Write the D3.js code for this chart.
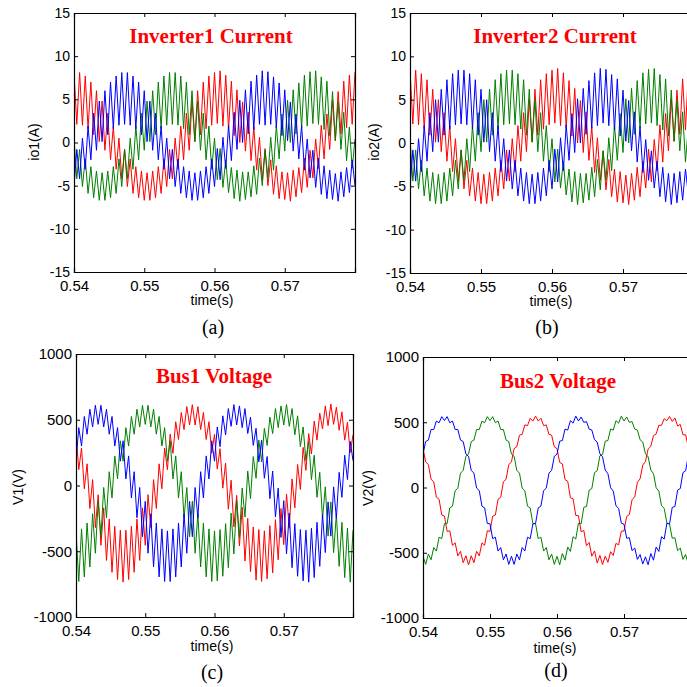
<!DOCTYPE html>
<html lang="en">
<head>
<meta charset="utf-8">
<title>Inverter currents and bus voltages</title>
<script src="https://cdn.jsdelivr.net/npm/d3@7"></script>
<style>
  body { margin: 0; background: white; }
  svg { display: block; background: white; }
  .axis-text { font-family: "Liberation Sans", Arial, sans-serif; fill: #000; }
  .title { font-family: "Liberation Serif", "Times New Roman", serif; font-weight: bold; fill: #ff0000; }
  .tag { font-family: "Liberation Serif", "Times New Roman", serif; fill: #000; }
</style>
</head>
<body>
<script>

// sample instants (s)
var sampleTimes = [
  0.54, 0.5404, 0.5408, 0.5412, 0.5416, 0.542, 0.5424, 0.5428, 0.5432, 0.5436,
  0.544, 0.5444, 0.5448, 0.5452, 0.5456, 0.546, 0.5464, 0.5468, 0.5472, 0.5476,
  0.548, 0.5484, 0.5488, 0.5492, 0.5496, 0.55, 0.5504, 0.5508, 0.5512, 0.5516,
  0.552, 0.5524, 0.5528, 0.5532, 0.5536, 0.554, 0.5544, 0.5548, 0.5552, 0.5556,
  0.556, 0.5564, 0.5568, 0.5572, 0.5576, 0.558, 0.5584, 0.5588, 0.5592, 0.5596,
  0.56, 0.5604, 0.5608, 0.5612, 0.5616, 0.562, 0.5624, 0.5628, 0.5632, 0.5636,
  0.564, 0.5644, 0.5648, 0.5652, 0.5656, 0.566, 0.5664, 0.5668, 0.5672, 0.5676,
  0.568, 0.5684, 0.5688, 0.5692, 0.5696, 0.57, 0.5704, 0.5708, 0.5712, 0.5716,
  0.572, 0.5724, 0.5728, 0.5732, 0.5736, 0.574, 0.5744, 0.5748, 0.5752, 0.5756,
  0.576, 0.5764, 0.5768, 0.5772, 0.5776, 0.578, 0.5784, 0.5788, 0.5792, 0.5796,
  0.58
];

// (a) inverter 1 current, A
var io1Red = [8.1, 2.1, 8.1, 2.0, 7.7, 1.6, 7.0, 0.9, 6.0, 0.1, 4.8, -0.9, 3.4, -2.0, 1.9, -3.1, 0.5, -4.2, -0.8, -5.1, -1.9, -5.9, -2.8, -6.4, -3.3, -6.7, -3.5, -6.7, -3.3, -6.4, -2.8, -5.9, -1.9, -5.1, -0.8, -4.2, 0.5, -3.1, 1.9, -2.0, 3.4, -0.9, 4.8, 0.1, 6.0, 0.9, 7.0, 1.6, 7.7, 2.0, 8.1,
  2.2, 8.3, 1.9, 7.8, 1.5, 7.1, 0.8, 6.1, 0.0, 4.7, -1.0, 3.5, -2.1, 1.8, -3.2, 0.6, -4.3, -0.7, -5.0, -2.0, -6.0, -2.7, -6.5, -3.4, -6.6, -3.5, -6.8, -3.2, -6.3, -2.9, -5.8, -1.8, -5.2, -0.9, -4.1, 0.4, -3.0, 2.0, -1.9, 3.3, -0.8, 4.9, 0.2, 5.9, 1.0, 7.1, 1.7, 7.8, 2.1, 8.2];
var io1Blue = [-5.1, -0.8, -4.2, 0.5, -3.1, 1.9, -2.0, 3.4, -0.9, 4.8, 0.1, 6.0, 0.9, 7.0, 1.6, 7.7, 2.0, 8.1, 2.1, 8.1, 2.0, 7.7, 1.6, 7.0, 0.9, 6.0, 0.1, 4.8, -0.9, 3.4, -2.0, 1.9, -3.1, 0.5, -4.2, -0.8, -5.1, -1.9, -5.9, -2.8, -6.4, -3.3, -6.7, -3.5, -6.7, -3.3, -6.4, -2.8, -5.9, -1.9, -5.1,
  -0.7, -4.3, 0.6, -3.0, 2.0, -2.1, 3.5, -0.8, 4.9, 0.0, 6.1, 1.0, 7.1, 1.5, 7.8, 2.1, 8.3, 2.0, 8.2, 2.1, 7.6, 1.7, 6.9, 0.8, 6.1, 0.2, 4.7, -1.0, 3.3, -1.9, 2.0, -3.2, 0.4, -4.1, -0.9, -5.2, -1.8, -6.0, -2.7, -6.5, -3.2, -6.6, -3.6, -6.8, -3.4, -6.3, -2.9, -5.8, -2.0, -5.0];
var io1Green = [0.5, -4.2, -0.8, -5.1, -1.9, -5.9, -2.8, -6.4, -3.3, -6.7, -3.5, -6.7, -3.3, -6.4, -2.8, -5.9, -1.9, -5.1, -0.8, -4.2, 0.5, -3.1, 1.9, -2.0, 3.4, -0.9, 4.8, 0.1, 6.0, 0.9, 7.0, 1.6, 7.7, 2.0, 8.1, 2.1, 8.1, 2.0, 7.7, 1.6, 7.0, 0.9, 6.0, 0.1, 4.8, -0.9, 3.4, -2.0, 1.9, -3.1, 0.5,
  -4.3, -0.7, -5.2, -2.0, -5.8, -2.9, -6.5, -3.2, -6.8, -3.4, -6.6, -3.4, -6.3, -2.7, -6.0, -1.8, -5.0, -0.9, -4.1, 0.6, -3.2, 2.0, -1.9, 3.3, -1.0, 4.9, 0.0, 6.1, 1.0, 6.9, 1.7, 7.8, 1.9, 8.2, 2.2, 8.3, 2.1, 7.6, 1.5, 7.1, 0.8, 5.9, 0.2, 4.7, -0.8, 3.5, -2.1, 1.8, -3.0, 0.4];

// (b) inverter 2 current, A
var io2Red = [8.4, 2.2, 8.4, 2.1, 8.0, 1.6, 7.3, 0.9, 6.2, 0.1, 5.0, -1.0, 3.5, -2.1, 2.0, -3.3, 0.5, -4.4, -0.8, -5.3, -2.0, -6.1, -2.9, -6.7, -3.4, -7.0, -3.6, -7.0, -3.4, -6.7, -2.9, -6.1, -2.0, -5.3, -0.8, -4.4, 0.5, -3.3, 2.0, -2.1, 3.5, -1.0, 5.0, 0.1, 6.2, 0.9, 7.3, 1.6, 8.0, 2.1, 8.4,
  2.3, 8.6, 2.0, 8.1, 1.7, 7.2, 0.8, 6.3, 0.0, 4.9, -1.1, 3.6, -2.0, 1.9, -3.4, 0.6, -4.3, -0.9, -5.4, -1.9, -6.2, -3.0, -6.8, -3.3, -6.9, -3.7, -7.1, -3.5, -6.6, -2.8, -6.2, -2.1, -5.2, -0.7, -4.5, 0.4, -3.2, 2.1, -2.2, 3.4, -0.9, 5.1, 0.2, 6.1, 1.0, 7.4, 1.5, 8.1, 2.2, 8.5];
var io2Blue = [-5.3, -0.8, -4.4, 0.5, -3.3, 2.0, -2.1, 3.5, -1.0, 5.0, 0.1, 6.2, 0.9, 7.3, 1.6, 8.0, 2.1, 8.4, 2.2, 8.4, 2.1, 8.0, 1.6, 7.3, 0.9, 6.2, 0.1, 5.0, -1.0, 3.5, -2.1, 2.0, -3.3, 0.5, -4.4, -0.8, -5.3, -2.0, -6.1, -2.9, -6.7, -3.4, -7.0, -3.6, -7.0, -3.4, -6.7, -2.9, -6.1, -2.0, -5.3,
  -0.7, -4.5, 0.6, -3.2, 2.1, -2.0, 3.4, -1.1, 5.1, 0.0, 6.3, 1.0, 7.2, 1.7, 8.1, 2.0, 8.6, 2.3, 8.5, 2.0, 7.9, 1.5, 7.4, 0.8, 6.1, 0.2, 4.9, -0.9, 3.6, -2.2, 1.9, -3.4, 0.4, -4.3, -0.9, -5.2, -2.1, -6.2, -2.8, -6.8, -3.5, -7.1, -3.5, -6.9, -3.3, -6.6, -3.0, -6.0, -1.9, -5.4];
var io2Green = [0.5, -4.4, -0.8, -5.3, -2.0, -6.1, -2.9, -6.7, -3.4, -7.0, -3.6, -7.0, -3.4, -6.7, -2.9, -6.1, -2.0, -5.3, -0.8, -4.4, 0.5, -3.3, 2.0, -2.1, 3.5, -1.0, 5.0, 0.1, 6.2, 0.9, 7.3, 1.6, 8.0, 2.1, 8.4, 2.2, 8.4, 2.1, 8.0, 1.6, 7.3, 0.9, 6.2, 0.1, 5.0, -1.0, 3.5, -2.1, 2.0, -3.3, 0.5,
  -4.5, -0.7, -5.2, -2.1, -6.0, -3.0, -6.8, -3.3, -7.1, -3.5, -6.9, -3.5, -6.6, -2.8, -6.2, -1.9, -5.4, -0.9, -4.3, 0.6, -3.2, 2.1, -2.0, 3.4, -1.1, 5.1, 0.0, 6.3, 1.0, 7.2, 1.7, 8.1, 2.2, 8.5, 2.3, 8.6, 2.0, 7.9, 1.5, 7.4, 0.8, 6.1, 0.2, 4.9, -0.9, 3.6, -2.2, 1.9, -3.4, 0.6];

// (c) bus 1 voltage, V
var v1Red = [390, 120, 285, -25, 165, -175, 45, -320, -70, -455, -170, -570, -255, -660, -310, -715, -340, -735, -340, -715, -310, -660, -255, -570, -170, -455, -70, -320, 45, -175, 165, -25, 285, 120, 390, 245, 485, 350, 555, 425, 600, 460, 615, 460, 600, 425, 555, 350, 485, 245, 390,
  125, 280, -20, 170, -180, 40, -315, -75, -460, -165, -575, -250, -655, -315, -720, -335, -730, -345, -710, -305, -665, -260, -565, -175, -450, -65, -325, 50, -170, 160, -30, 290, 115, 395, 240, 490, 345, 550, 430, 605, 455, 620, 465, 595, 420, 560, 345, 480, 250, 385];
var v1Blue = [185, 440, 300, 525, 390, 580, 445, 610, 465, 610, 445, 580, 390, 525, 300, 440, 185, 340, 50, 225, -95, 105, -245, -15, -390, -120, -515, -215, -620, -285, -695, -330, -730, -345, -730, -330, -695, -285, -620, -215, -515, -120, -390, -15, -245, 105, -95, 225, 50, 340, 185,
  445, 295, 530, 385, 585, 450, 615, 460, 605, 440, 585, 395, 520, 305, 435, 180, 345, 55, 220, -100, 110, -240, -20, -395, -115, -520, -210, -625, -290, -690, -335, -725, -340, -735, -325, -700, -280, -615, -220, -510, -125, -385, -10, -250, 100, -90, 230, 45, 335, 190];
var v1Green = [-345, -730, -330, -695, -285, -620, -215, -515, -120, -390, -15, -245, 105, -95, 225, 50, 340, 185, 440, 300, 525, 390, 580, 445, 610, 465, 610, 445, 580, 390, 525, 300, 440, 185, 340, 50, 225, -95, 105, -245, -15, -390, -120, -515, -215, -620, -285, -695, -330, -730, -345,
  -725, -335, -690, -290, -625, -210, -520, -115, -395, -20, -240, 110, -100, 220, 55, 345, 180, 435, 305, 520, 395, 585, 440, 605, 460, 615, 450, 585, 385, 530, 295, 445, 190, 335, 45, 230, -90, 100, -250, -10, -385, -125, -510, -220, -615, -280, -700, -325, -735, -340];

// (d) bus 2 voltage, V
var v2Red = [298, 196, 176, 63, 44, -75, -90, -211, -219, -336, -332, -443, -424, -524, -489, -576, -523, -593, -523, -576, -489, -524, -424, -443, -332, -336, -219, -211, -90, -75, 44, 63, 176, 196, 298, 312, 401, 407, 480, 474, 530, 509, 547, 509, 530, 474, 480, 407, 401, 312, 298,
  193, 180, 60, 48, -78, -86, -214, -216, -339, -329, -446, -421, -527, -486, -579, -520, -590, -526, -573, -492, -521, -428, -440, -335, -333, -222, -208, -94, -72, 40, 66, 172, 199, 295, 315, 398, 410, 477, 477, 527, 512, 544, 506, 533, 471, 483, 404, 404, 309, 301];
var v2Blue = [256, 352, 363, 444, 444, 509, 496, 543, 513, 543, 496, 509, 444, 444, 363, 352, 256, 239, 131, 110, -5, -24, -143, -156, -276, -278, -392, -381, -487, -460, -554, -510, -589, -527, -589, -510, -554, -460, -487, -381, -392, -278, -276, -156, -143, -24, -5, 110, 131, 239, 256,
  355, 360, 448, 440, 512, 493, 547, 510, 540, 499, 505, 447, 440, 366, 348, 259, 235, 134, 106, -2, -28, -140, -160, -273, -282, -389, -385, -484, -464, -551, -514, -586, -531, -592, -506, -557, -456, -490, -377, -395, -274, -279, -152, -146, -20, -8, 114, 128, 243, 253];
var v2Green = [-527, -589, -510, -554, -460, -487, -381, -392, -278, -276, -156, -143, -24, -5, 110, 131, 239, 256, 352, 363, 444, 444, 509, 496, 543, 513, 543, 496, 509, 444, 444, 363, 352, 256, 239, 131, 110, -5, -24, -143, -156, -276, -278, -392, -381, -487, -460, -554, -510, -589, -527,
  -592, -506, -557, -456, -490, -377, -395, -274, -279, -152, -146, -20, -8, 114, 128, 243, 253, 355, 360, 448, 440, 512, 493, 547, 510, 540, 499, 505, 447, 440, 366, 348, 259, 235, 134, 106, -2, -28, -140, -160, -273, -282, -389, -385, -484, -464, -551, -514, -586, -531];

var timeTicks = [0.54, 0.55, 0.56, 0.57];
var currentTicks = [-15, -10, -5, 0, 5, 10, 15];
var voltageTicks = [-1000, -500, 0, 500, 1000];

var phaseColors = ["#ff0000", "#008000", "#0000ff"];

var panels = [
  { id: "a", title: "Inverter1 Current", ylabel: "io1(A)", tag: "(a)",
    series: [io1Red, io1Green, io1Blue], ydomain: [-15, 15], yticks: currentTicks,
    box: { l: 74, r: 355, t: 13, b: 272 }, ytickSize: 14,
    titlePos: [211, 43], ylabelPos: [34, 142], xlabelPos: [212, 305], tagPos: [213, 334] },
  { id: "b", title: "Inverter2 Current", ylabel: "io2(A)", tag: "(b)",
    series: [io2Red, io2Green, io2Blue], ydomain: [-15, 15], yticks: currentTicks,
    box: { l: 410, r: 694, t: 13, b: 273 }, ytickSize: 14,
    titlePos: [555, 43], ylabelPos: [374, 142], xlabelPos: [551, 306], tagPos: [547, 334] },
  { id: "c", title: "Bus1 Voltage", ylabel: "V1(V)", tag: "(c)",
    series: [v1Red, v1Green, v1Blue], ydomain: [-1000, 1000], yticks: voltageTicks,
    box: { l: 76, r: 353, t: 354, b: 617 }, ytickSize: 15,
    titlePos: [214, 383], ylabelPos: [18, 487], xlabelPos: [212, 651], tagPos: [212, 679] },
  { id: "d", title: "Bus2 Voltage", ylabel: "V2(V)", tag: "(d)",
    series: [v2Red, v2Green, v2Blue], ydomain: [-1000, 1000], yticks: voltageTicks,
    box: { l: 423, r: 691, t: 357, b: 618 }, ytickSize: 15,
    titlePos: [558, 388], ylabelPos: [368, 488], xlabelPos: [555, 653], tagPos: [556, 677] }
];

var svg = d3.select("body").append("svg")
  .attr("width", 687)
  .attr("height", 687);

panels.forEach(function(p) {
  var b = p.box;
  var x = d3.scaleLinear().domain([0.54, 0.58]).range([b.l, b.r]);
  var y = d3.scaleLinear().domain(p.ydomain).range([b.b, b.t]);

  svg.append("clipPath").attr("id", "clip-" + p.id)
    .append("rect")
    .attr("x", b.l).attr("y", b.t)
    .attr("width", b.r - b.l).attr("height", b.b - b.t);

  var line = d3.line()
    .x(function(d, i) { return x(sampleTimes[i]); })
    .y(function(d) { return y(d); });

  var g = svg.append("g").attr("clip-path", "url(#clip-" + p.id + ")");
  p.series.forEach(function(s, k) {
    g.append("path")
      .datum(s)
      .attr("d", line)
      .attr("fill", "none")
      .attr("stroke", phaseColors[k])
      .attr("stroke-width", 1);
  });

  // axes, ticks pointing inwards like matlab
  var xAxis = svg.append("g").attr("transform", "translate(0," + b.b + ")")
    .call(d3.axisBottom(x).tickValues(timeTicks).tickSize(-4).tickPadding(6)
      .tickFormat(d3.format(".2f")));
  svg.append("g").attr("transform", "translate(0," + b.t + ")")
    .call(d3.axisTop(x).tickValues(timeTicks).tickSize(-4).tickFormat(""));
  var yAxis = svg.append("g").attr("transform", "translate(" + b.l + ",0)")
    .call(d3.axisLeft(y).tickValues(p.yticks).tickSize(-4).tickPadding(4)
      .tickFormat(function(d) { return String(d); }));
  svg.append("g").attr("transform", "translate(" + b.r + ",0)")
    .call(d3.axisRight(y).tickValues(p.yticks).tickSize(-4).tickFormat(""));

  svg.selectAll(".domain").attr("stroke", "#000").attr("stroke-width", 1.2);
  svg.selectAll(".tick line").attr("stroke", "#000");

  xAxis.selectAll("text").attr("class", "axis-text")
    .style("font-size", "15px").attr("y", 8).attr("dy", "0.71em");
  yAxis.selectAll("text").attr("class", "axis-text")
    .style("font-size", p.ytickSize + "px");

  svg.append("text").attr("class", "title")
    .attr("x", p.titlePos[0]).attr("y", p.titlePos[1])
    .attr("text-anchor", "middle")
    .style("font-size", "21px")
    .text(p.title);

  svg.append("text").attr("class", "axis-text")
    .attr("transform", "translate(" + p.ylabelPos[0] + "," + p.ylabelPos[1] + ") rotate(-90)")
    .attr("text-anchor", "middle")
    .attr("dy", "0.35em")
    .style("font-size", "14px")
    .text(p.ylabel);

  svg.append("text").attr("class", "axis-text")
    .attr("x", p.xlabelPos[0]).attr("y", p.xlabelPos[1])
    .attr("text-anchor", "middle")
    .style("font-size", "14px")
    .text("time(s)");

  svg.append("text").attr("class", "tag")
    .attr("x", p.tagPos[0]).attr("y", p.tagPos[1])
    .attr("text-anchor", "middle")
    .style("font-size", "20px")
    .text(p.tag);
});

</script>
</body>
</html>
